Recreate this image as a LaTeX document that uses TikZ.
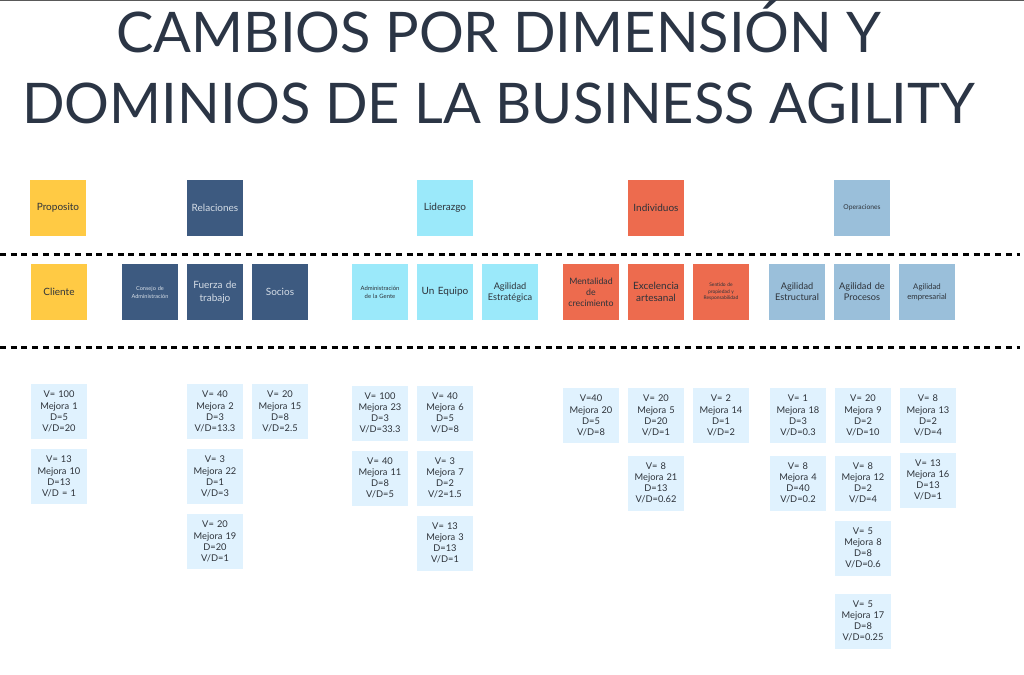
\documentclass[tikz,border=0pt]{standalone}
\usepackage{fontspec}
\setmainfont{Lato}
\definecolor{cyel}{HTML}{FFCA44}
\definecolor{cnavy}{HTML}{3D5A80}
\definecolor{ccyan}{HTML}{9BE9FA}
\definecolor{corange}{HTML}{ED6B4E}
\definecolor{csteel}{HTML}{9ABFDA}
\definecolor{cnote}{HTML}{E0F2FE}
\definecolor{ctitle}{HTML}{2B3545}
\definecolor{ctext}{HTML}{2E333A}
\definecolor{clight}{HTML}{D5DDE6}
\tikzset{
  card/.style={minimum width=56pt, minimum height=56pt, inner sep=1pt, align=center, text width=54pt, text=ctext, font=\fontsize{10}{12.5}\selectfont},
  yel/.style={card, fill=cyel},
  navy/.style={card, fill=cnavy, text=clight},
  cyan/.style={card, fill=ccyan},
  orng/.style={card, fill=corange},
  steel/.style={card, fill=csteel},
  note/.style={card, minimum height=55pt, fill=cnote, font=\fontsize{9.3}{11.2}\selectfont},
  sep/.style={line width=3pt, dash pattern=on 6pt off 4.7pt, black},
  ttl/.style={anchor=base, text=ctitle, font=\fontsize{56}{60}\selectfont, inner sep=0pt}
}
\begin{document}
\begin{tikzpicture}[x=1pt,y=-1pt]
\useasboundingbox (0,0) rectangle (1024,674);
\fill[gray!70!black] (0,0) rectangle (1024,1.3);
% title
\node[ttl] (t1) at (499,53) {CAMBIOS POR DIMENSIÓN Y};
\node[ttl] (t2) at (498.5,123) {DOMINIOS DE LA BUSINESS AGILITY};
% separators
\coordinate (s1a) at (0,254); \coordinate (s1b) at (1020,254);
\coordinate (s2a) at (0,347); \coordinate (s2b) at (1020,347);
\draw[sep] (s1a) -- (s1b);
\draw[sep] (s2a) -- (s2b);
% dimensions
\node[yel] (proposito) at (58,208) {Proposito};
\node[navy] (relaciones) at (215,208) {Relaciones};
\node[cyan] (liderazgo) at (445,208) {Liderazgo};
\node[orng] (individuos) at (656,208) {Individuos};
\node[steel, font=\fontsize{6.7}{8}\selectfont] (operaciones) at (862,208) {Operaciones};
% domains
\node[yel] (cliente) at (59,292) {Cliente};
\node[navy, font=\fontsize{5.6}{8}\selectfont] (consejo) at (150,292) {Consejo de\\Administración};
\node[navy] (fuerza) at (215,292) {Fuerza de\\trabajo};
\node[navy] (socios) at (280,292) {Socios};
\node[cyan, font=\fontsize{5.9}{8}\selectfont] (admgente) at (380,292) {Administración\\de la Gente};
\node[cyan] (unequipo) at (445,292) {Un Equipo};
\node[cyan, font=\fontsize{9.2}{11}\selectfont] (agestrat) at (510,292) {Agilidad\\Estratégica};
\node[orng, font=\fontsize{8.8}{11}\selectfont] (mental) at (591,292) {Mentalidad\\de\\crecimiento};
\node[orng] (excel) at (656,292) {Excelencia\\artesanal};
\node[orng, font=\fontsize{4.9}{6.5}\selectfont] (sentido) at (721,292) {Sentido de\\propiedad y\\Responsabilidad};
\node[steel, font=\fontsize{9.2}{11}\selectfont] (agestruct) at (797,292) {Agilidad\\Estructural};
\node[steel, font=\fontsize{9.2}{11}\selectfont] (agproc) at (862,292) {Agilidad de\\Procesos};
\node[steel, font=\fontsize{7.8}{10}\selectfont] (agemp) at (927,292) {Agilidad\\empresarial};
% notes
\node[note] (m1) at (59,411.5) {V= 100\\Mejora 1\\D=5\\V/D=20};
\node[note] (m10) at (59,476.5) {V= 13\\Mejora 10\\D=13\\V/D = 1};
\node[note] (m2) at (215,411.5) {V= 40\\Mejora 2\\D=3\\V/D=13.3};
\node[note] (m22) at (215,476.5) {V= 3\\Mejora 22\\D=1\\V/D=3};
\node[note] (m19) at (215,541.5) {V= 20\\Mejora 19\\D=20\\V/D=1};
\node[note] (m15) at (280,411.5) {V= 20\\Mejora 15\\D=8\\V/D=2.5};
\node[note] (m23) at (380,413) {V= 100\\Mejora 23\\D=3\\V/D=33.3};
\node[note] (m11) at (380,478) {V= 40\\Mejora 11\\D=8\\V/D=5};
\node[note] (m6) at (445,413) {V= 40\\Mejora 6\\D=5\\V/D=8};
\node[note] (m7) at (445,478) {V= 3\\Mejora 7\\D=2\\V/2=1.5};
\node[note] (m3) at (445,543) {V= 13\\Mejora 3\\D=13\\V/D=1};
\node[note] (m20) at (591,415.5) {V=40\\Mejora 20\\D=5\\V/D=8};
\node[note] (m5) at (656,415.5) {V= 20\\Mejora 5\\D=20\\V/D=1};
\node[note] (m21) at (656,483) {V= 8\\Mejora 21\\D=13\\V/D=0.62};
\node[note] (m14) at (721,415.5) {V= 2\\Mejora 14\\D=1\\V/D=2};
\node[note] (m18) at (798,415.5) {V= 1\\Mejora 18\\D=3\\V/D=0.3};
\node[note] (m4) at (798,483) {V= 8\\Mejora 4\\D=40\\V/D=0.2};
\node[note] (m9) at (863,415.5) {V= 20\\Mejora 9\\D=2\\V/D=10};
\node[note] (m12) at (863,483) {V= 8\\Mejora 12\\D=2\\V/D=4};
\node[note] (m8) at (863,548) {V= 5\\Mejora 8\\D=8\\V/D=0.6};
\node[note] (m17) at (863,621) {V= 5\\Mejora 17\\D=8\\V/D=0.25};
\node[note] (m13) at (928,415.5) {V= 8\\Mejora 13\\D=2\\V/D=4};
\node[note] (m16) at (928,480) {V= 13\\Mejora 16\\D=13\\V/D=1};
\end{tikzpicture}
\end{document}
